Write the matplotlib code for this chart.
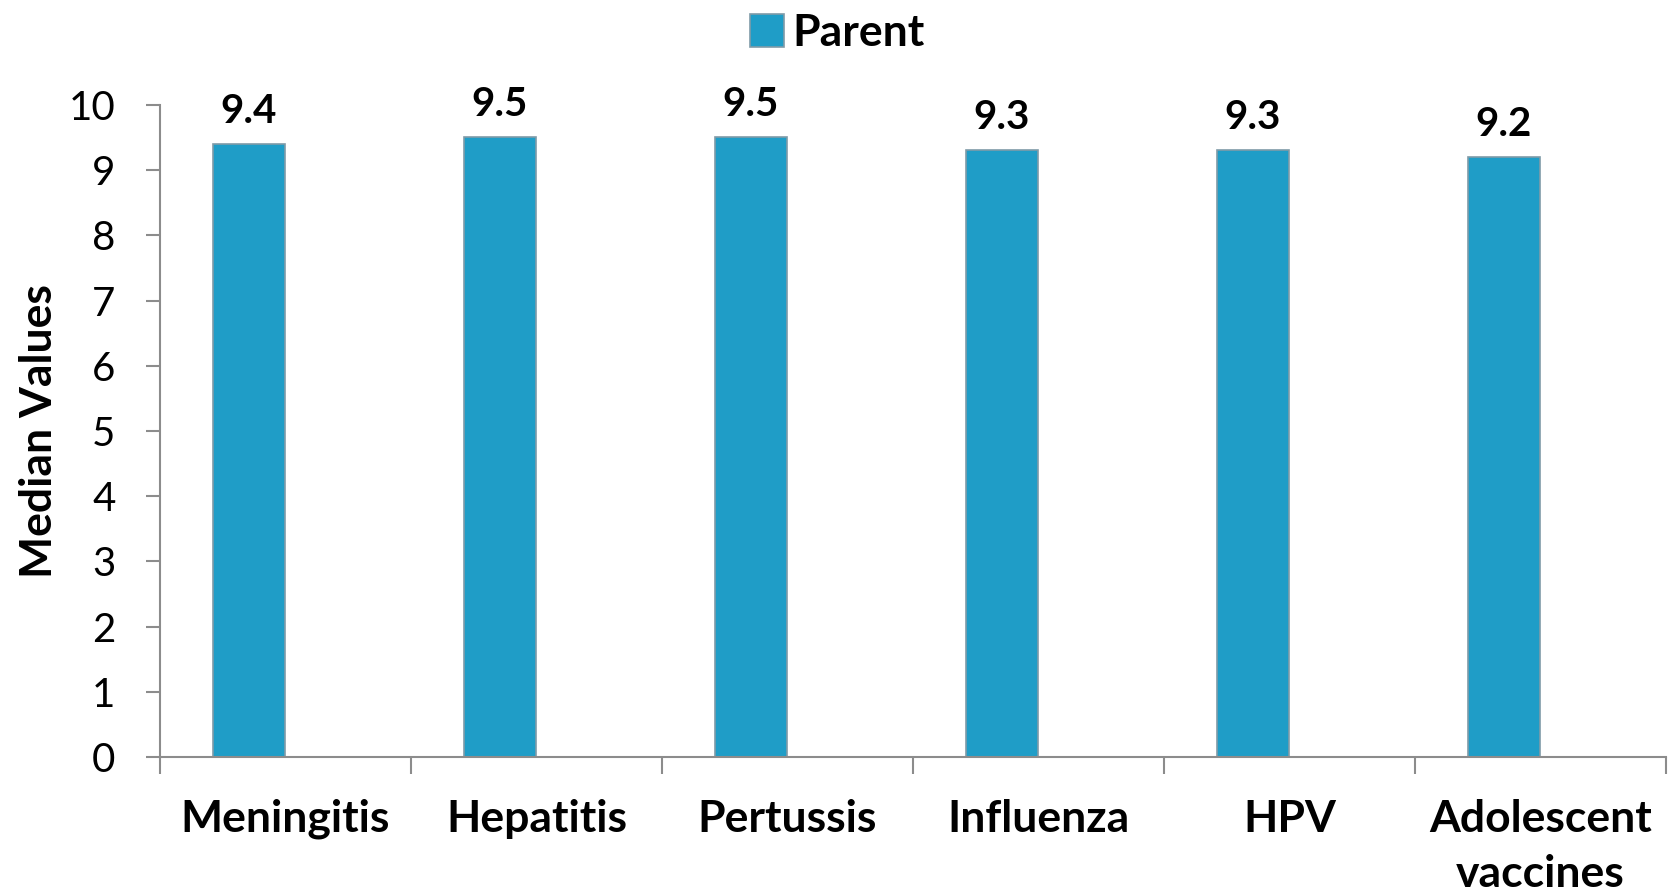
import numpy as np
import matplotlib.pyplot as plt
from matplotlib.patches import Patch

plt.rcParams['font.family'] = ['Lato', 'DejaVu Sans']

# Chart data
categories = ['Meningitis', 'Hepatitis', 'Pertussis', 'Influenza', 'HPV', 'Adolescent\nvaccines']
parent_values = [9.4, 9.5, 9.5, 9.3, 9.3, 9.2]
y_ticks = list(range(0, 11))

bar_color = '#1F9DC7'
edge_color = '#7F9BA8'
axis_color = '#8C8C8C'

fig = plt.figure(figsize=(16.75, 8.96), dpi=100)
ax = fig.add_axes([0.0955, 0.155, 0.899, 0.728])

x = np.arange(len(categories))
width = 0.29
bars = ax.bar(x, parent_values, width=-width, align='edge', color=bar_color,
              edgecolor=edge_color, linewidth=1.2, label='Parent')

# labels above bars
for xi, v in zip(x, parent_values):
    ax.text(xi - width / 2, v + 0.22, f'{v:.1f}', ha='center', va='bottom',
            fontsize=29, fontweight='bold')

ax.set_xlim(-0.5, len(categories) - 0.5)
ax.set_ylim(0, 10)
ax.set_yticks(y_ticks)
ax.set_yticklabels([str(t) for t in y_ticks], fontsize=29)

# category ticks at boundaries, labels at centres
ax.set_xticks(np.arange(-0.5, len(categories)), minor=False)
ax.set_xticklabels([])
ax.set_xticks(x, minor=True)
ax.set_xticklabels(categories, minor=True, fontsize=32, fontweight='bold',
                   linespacing=1.45)
ax.tick_params(axis='x', which='minor', length=0, pad=30)
ax.tick_params(axis='x', which='major', length=12, color=axis_color, width=1.5)
ax.tick_params(axis='y', length=10, color=axis_color, width=1.5, pad=22)

for side in ['top', 'right']:
    ax.spines[side].set_visible(False)
for side in ['left', 'bottom']:
    ax.spines[side].set_color(axis_color)
    ax.spines[side].set_linewidth(1.5)

ax.set_ylabel('Median Values', fontsize=32, fontweight='bold', labelpad=7)

handle = Patch(facecolor=bar_color, edgecolor=edge_color, linewidth=1.2)
fig.legend([handle], ['Parent'], loc='upper center', bbox_to_anchor=(0.5, 1.03),
           frameon=False, prop={'size': 32, 'weight': 'bold'},
           handlelength=0.75, handleheight=0.75, handletextpad=0.2)

fig.savefig('out.png', dpi=100)
